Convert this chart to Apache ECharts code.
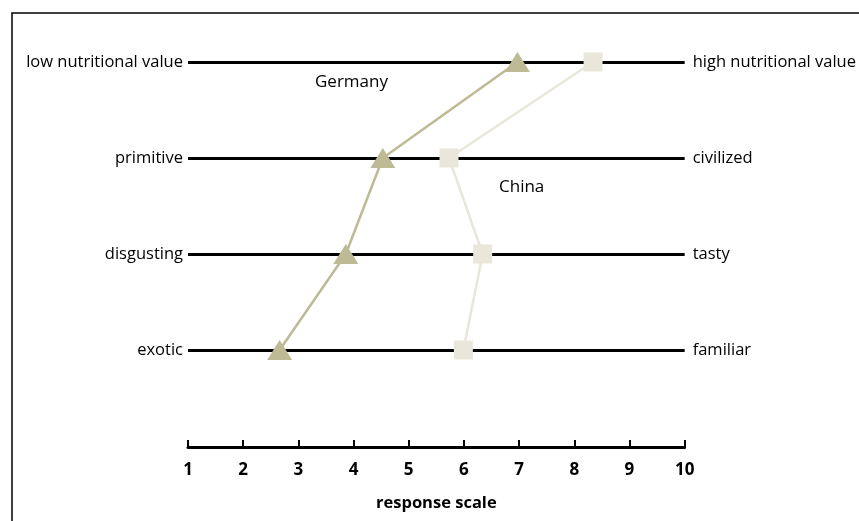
<!DOCTYPE html>
<html><head><meta charset="utf-8">
<script src="https://cdn.jsdelivr.net/npm/echarts@6/dist/echarts.min.js"></script>
<style>html,body{margin:0;padding:0;background:#fff}#c{width:859px;height:521px}</style>
</head><body><div id="c"></div>
<script>
const rowsLeft = ["low nutritional value", "primitive", "disgusting", "exotic"];
const rowsRight = ["high nutritional value", "civilized", "tasty", "familiar"];
const rowLevels = [4, 3, 2, 1];
const germany = [6.97, 4.53, 3.86, 2.66];
const china = [8.34, 5.73, 6.34, 5.99];
const xTicks = [1, 2, 3, 4, 5, 6, 7, 8, 9, 10];

const FONT = "Open Sans";
function labelFor(arr) {
  return function (v) { const i = rowLevels.indexOf(Math.round(v)); return i >= 0 ? arr[i] : ""; };
}
const chart = echarts.init(document.getElementById('c'));
chart.setOption({
  animation: false,
  textStyle: { fontFamily: FONT },
  grid: { left: 188, right: 173, top: 62, bottom: 171, containLabel: false },
  xAxis: {
    type: 'value', min: xTicks[0], max: xTicks[xTicks.length - 1], interval: 1,
    offset: 97,
    axisLine: { show: true, lineStyle: { color: '#000', width: 3 } },
    axisTick: { show: true, inside: true, length: 7, lineStyle: { color: '#000', width: 2 } },
    splitLine: { show: false },
    axisLabel: { color: '#000', fontWeight: 'bold', fontSize: 17, margin: 15, fontFamily: FONT },
    name: 'response scale', nameLocation: 'middle', nameGap: 48,
    nameTextStyle: { color: '#000', fontWeight: 'bold', fontSize: 16.5, fontFamily: FONT }
  },
  yAxis: [{
    type: 'value', min: 1, max: 4, interval: 1, position: 'left',
    axisLine: { show: false }, axisTick: { show: false },
    splitLine: { show: true, lineStyle: { color: '#000', width: 3 } },
    axisLabel: { color: '#000', fontSize: 16.5, margin: 5, fontFamily: FONT, formatter: labelFor(rowsLeft) }
  }, {
    type: 'value', min: 1, max: 4, interval: 1, position: 'right',
    axisLine: { show: false }, axisTick: { show: false }, splitLine: { show: false },
    axisLabel: { color: '#000', fontSize: 16.5, margin: 8, fontFamily: FONT, formatter: labelFor(rowsRight) }
  }],
  graphic: [
    { type: 'rect', shape: { x: 12, y: 13, width: 900, height: 600 }, style: { fill: 'none', stroke: '#000', lineWidth: 1.5 }, silent: true },
    { type: 'text', left: 315, top: 74, style: { text: 'Germany', font: '17px "Open Sans"', fill: '#000' } },
    { type: 'text', left: 499, top: 179, style: { text: 'China', font: '17px "Open Sans"', fill: '#000' } }
  ],
  series: [{
    name: 'China', type: 'line', z: 3,
    data: china.map((v, i) => [v, rowLevels[i]]),
    symbol: 'rect', symbolSize: 19,
    lineStyle: { color: '#e9e7da', width: 2.5 },
    itemStyle: { color: '#e9e7da' }
  }, {
    name: 'Germany', type: 'line', z: 4,
    data: germany.map((v, i) => [v, rowLevels[i]]),
    symbol: 'triangle', symbolSize: [25, 20],
    lineStyle: { color: '#bdba95', width: 2.5 },
    itemStyle: { color: '#bdba95' }
  }]
});
</script></body></html>
